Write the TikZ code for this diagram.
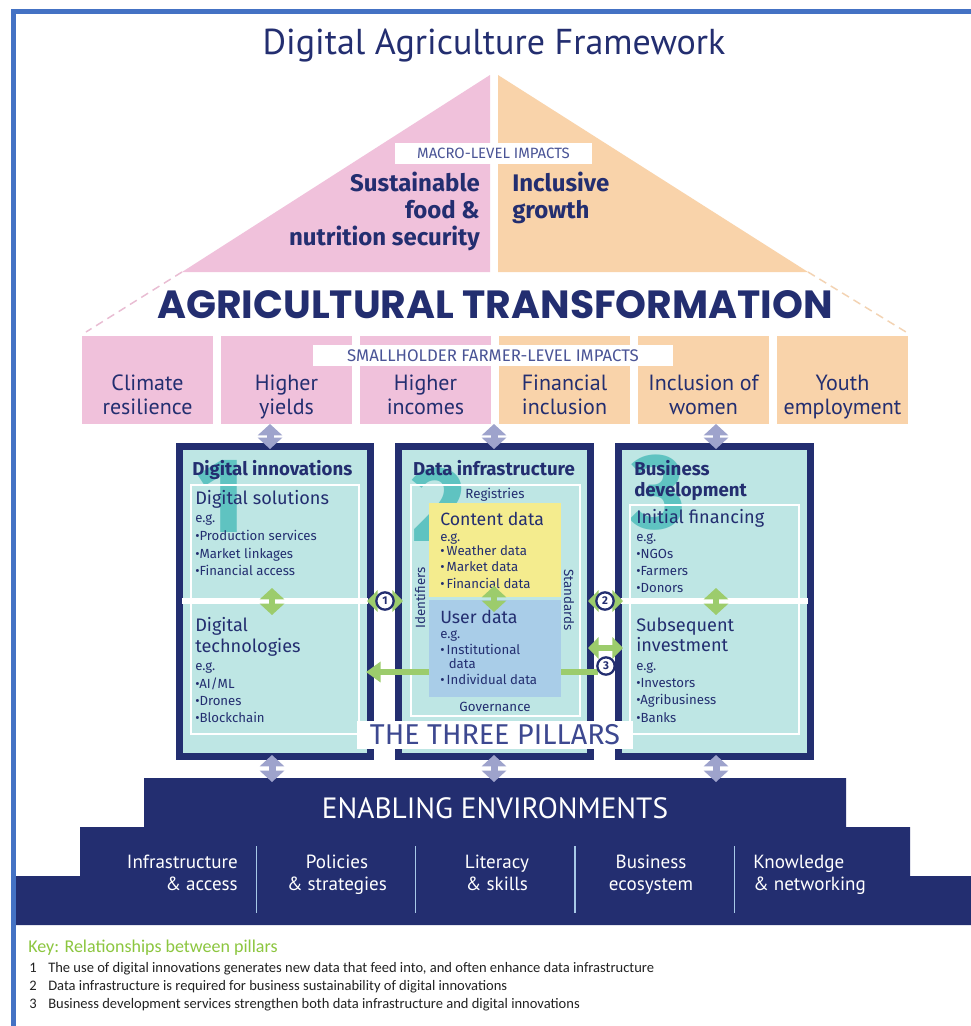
\documentclass[tikz,border=0pt]{standalone}
\usepackage{fontspec}
\setmainfont{Fira Sans}
\newfontfamily\ptsans{PT Sans}
\newfontfamily\carl{Carlito}
\newfontfamily\pop{Poppins}
\usetikzlibrary{arrows.meta}
\definecolor{navy}{HTML}{232E70}
\definecolor{pinkc}{HTML}{F0C1DB}
\definecolor{orangec}{HTML}{F9D3AA}
\definecolor{tealc}{HTML}{BEE6E4}
\definecolor{numc}{HTML}{5FC3C1}
\definecolor{yelc}{HTML}{F4EC8E}
\definecolor{userc}{HTML}{A9CDE8}
\definecolor{greenc}{HTML}{9CCC6C}
\definecolor{lavc}{HTML}{9EA3CC}
\definecolor{frameblue}{HTML}{4472C4}
\definecolor{sepc}{HTML}{A7C9E7}
\definecolor{keygreen}{HTML}{8CC63F}
\definecolor{pillarsc}{HTML}{3D4890}
\definecolor{softnavy}{HTML}{4A5496}
\definecolor{dashpink}{HTML}{E9BDD3}
\definecolor{dashorange}{HTML}{F3D3B3}
\definecolor{keytext}{HTML}{222222}
\newcommand\fsz[2]{\fontsize{#1}{#2}\selectfont}
\tikzset{
  tl/.style={anchor=base west, inner sep=0pt, text=navy},
  tr/.style={anchor=base east, inner sep=0pt, text=navy},
  tc/.style={anchor=base, inner sep=0pt, text=navy},
  impact/.style={rectangle, inner sep=0pt, minimum width=98.25pt, minimum height=66pt},
  pillar/.style={rectangle, fill=tealc, draw=navy, line width=5.25pt, inner sep=0pt, minimum width=143.25pt, minimum height=232.5pt},
  innerbox/.style={rectangle, draw=white, line width=1.1pt, inner sep=0pt},
  lavarr/.style={lavc, line width=5.25pt, {Triangle[width=18pt,length=8.5pt]}-{Triangle[width=18pt,length=8.5pt]}},
  grarr/.style={greenc, line width=5pt, {Triangle[width=18pt,length=8.5pt]}-{Triangle[width=18pt,length=8.5pt]}},
  grhor/.style={greenc, line width=4pt, {Triangle[width=16pt,length=8pt]}-{Triangle[width=16pt,length=8pt]}},
  circnum/.style={circle, draw=navy, line width=1.7pt, fill=white, inner sep=0pt, minimum size=13pt, text=navy, font=\bfseries\fsz{8.5}{9}},
  bignum/.style={anchor=base west, inner sep=0pt, text=numc, font=\bfseries\fsz{80}{82}},
  whitelab/.style={rectangle, fill=white, inner sep=0pt},
  envtxt/.style={inner sep=0pt, text=white, font=\ptsans\fsz{14.3}{16}},
  keyt/.style={anchor=base west, inner sep=0pt, text=keytext, font=\carl\fsz{10.9}{12}},
  hd/.style={font=\bfseries\fsz{14}{16}},
  sub/.style={font=\fsz{13.6}{15}},
  sm/.style={font=\fsz{9.9}{11}},
  lb/.style={font=\fsz{10}{11}}
}
\begin{document}
\begin{tikzpicture}[x=0.75pt,y=-0.75pt]
\useasboundingbox (0,0) rectangle (971,1026);
\fill[white] (0,0) rectangle (971,1026);
% outer frame
\draw[frameblue, line width=3.75pt] (13.5,1030) -- (13.5,11.5) -- (975,11.5);
% title
\node[tc, font=\ptsans\fsz{27}{29}] (title) at (494,54) {Digital Agriculture Framework};
% roof
\fill[pinkc] (182,272) -- (490,75) -- (490,272) -- cycle;
\fill[orangec] (498,75) -- (808,272) -- (498,272) -- cycle;
\draw[dashpink, line width=1.1pt, dash pattern=on 6pt off 4pt] (182,272) -- (86,332);
\draw[dashorange, line width=1.1pt, dash pattern=on 6pt off 4pt] (808,272) -- (906,332);
\node[whitelab, minimum width=147.75pt, minimum height=15.75pt, text=softnavy, font=\fsz{11.2}{12}] (macro) at (493.5,153.5) {MACRO-LEVEL IMPACTS};
\node[tr, font=\bfseries\fsz{18}{19}] (s1) at (480,191) {Sustainable};
\node[tr, font=\bfseries\fsz{18}{19}] (s2) at (480,218) {food \&};
\node[tr, font=\bfseries\fsz{18}{19}] (s3) at (480,245) {nutrition security};
\node[tl, font=\bfseries\fsz{18}{19}] (g1) at (512,191) {Inclusive};
\node[tl, font=\bfseries\fsz{18}{19}] (g2) at (512,218) {growth};
\node[tc, font=\pop\bfseries\fsz{29.5}{31}] (agt) at (495,318) {AGRICULTURAL TRANSFORMATION};
% smallholder impacts
\foreach \cx/\col/\la/\lb [count=\i] in {147.5/pinkc/Climate/resilience, 286.5/pinkc/Higher/yields, 425.5/pinkc/Higher/incomes, 564.5/orangec/Financial/inclusion, 703.5/orangec/Inclusion of/women, 842.5/orangec/Youth/employment}{
  \node[impact, fill=\col] (imp\i) at (\cx,380) {};
  \node[tc, font=\ptsans\fsz{16.5}{18}] (impa\i) at (\cx,390) {\la};
  \node[tc, font=\ptsans\fsz{16.5}{18}] (impb\i) at (\cx,414) {\lb};
}
\node[whitelab, minimum width=270pt, minimum height=15.75pt, text=softnavy, font=\fsz{12.6}{13}] (shlab) at (493,355.5) {SMALLHOLDER FARMER-LEVEL IMPACTS};
% pillars
\node[pillar] (p1) at (275,601.5) {};
\node[pillar, minimum width=144pt] (p2) at (494.5,601.5) {};
\node[pillar, minimum width=144pt] (p3) at (714.5,601.5) {};
% big numerals
\node[bignum] (n1) at (196,532) {1};
\node[bignum] (n2) at (411,541) {2};
\node[bignum] (n3) at (630,528) {3};
% pillar 1 inner
\fill[white] (182,598) rectangle (368,604);
\node[innerbox, minimum width=126pt, minimum height=186.75pt] (p1in) at (275,609.5) {};
\node[tl, hd] (p1t) at (192,475) {Digital innovations};
\node[tl, sub] (p1a) at (195,504) {Digital solutions};
\node[tl, sm] (p1e) at (195,522) {e.g.};
\foreach \t/\y [count=\i] in {Production services/540, Market linkages/558, Financial access/575}
  \node[tl, sm] (p1b\i) at (195,\y) {•\t};
\node[tl, sub] (p1c) at (195,631) {Digital};
\node[tl, sub] (p1d) at (195,652) {technologies};
\node[tl, sm] (p1f) at (195,670) {e.g.};
\node[tl, sm] (p1g1) at (195,688) {•AI/ML};
\node[tl, sm] (p1g2) at (195,705) {•Drones};
\node[tl, sm] (p1g3) at (195,722) {•Blockchain};
% pillar 2 inner
\node[innerbox, minimum width=126.75pt, minimum height=173.25pt] (p2in) at (495.5,600.5) {};
\node[tc, hd] (p2t) at (494,475) {Data infrastructure};
\node[tc, lb] (reg) at (495,498) {Registries};
\node[rectangle, fill=yelc, inner sep=0pt, minimum width=99pt, minimum height=70.5pt] (content) at (495,550) {};
\node[rectangle, fill=userc, inner sep=0pt, minimum width=99pt, minimum height=72.75pt] (user) at (495,648.5) {};
\node[tl, font=\fsz{13.3}{14}] (cd) at (440,525) {Content data};
\node[tl, sm] (cde) at (440,541) {e.g.};
\foreach \t/\y [count=\i] in {Weather data/555, Market data/571, Financial data/588}
  \node[tl, sm] (cdb\i) at (440,\y) {•\,\t};
\node[tl, font=\fsz{13.3}{14}] (ud) at (440,623) {User data};
\node[tl, sm] (ude) at (440,638) {e.g.};
\node[tl, sm] (udb1) at (440,654) {•\,Institutional};
\node[tl, sm] (udb2) at (448.5,668) {data};
\node[tl, sm] (udb3) at (440,684) {•\,Individual data};
\node[inner sep=0pt, text=navy, lb, rotate=90] (ident) at (420,598) {Identifiers};
\node[inner sep=0pt, text=navy, lb, rotate=-90] (stand) at (569,600) {Standards};
\node[tc, lb] (gov) at (495,711) {Governance};
% pillar 3 inner
\fill[white] (621,598) rectangle (808,604);
\node[innerbox, minimum width=126.75pt, minimum height=171.75pt] (p3in) at (714.5,619.5) {};
\node[tl, hd] (p3t) at (634,475) {Business};
\node[tl, hd] (p3t2) at (634,496) {development};
\node[tl, sub] (p3a) at (636,523) {Initial financing};
\node[tl, sm] (p3e) at (636,541) {e.g.};
\foreach \t/\y [count=\i] in {NGOs/558, Farmers/575, Donors/592}
  \node[tl, sm] (p3b\i) at (636,\y) {•\t};
\node[tl, sub] (p3c) at (636,631) {Subsequent};
\node[tl, sub] (p3d) at (636,651) {investment};
\node[tl, sm] (p3f) at (636,670) {e.g.};
\foreach \t/\y [count=\i] in {Investors/687, Agribusiness/704, Banks/722}
  \node[tl, sm] (p3g\i) at (636,\y) {•\t};
% internal green arrows
\coordinate (ga1) at (272,588); \coordinate (gb1) at (272,615);
\coordinate (ga2) at (494,586); \coordinate (gb2) at (494,612);
\coordinate (ga3) at (716,588); \coordinate (gb3) at (716,615);
\draw[grarr] (ga1) -- (gb1);
\draw[grarr] (ga2) -- (gb2);
\draw[grarr] (ga3) -- (gb3);
% relations between pillars
\coordinate (r1a) at (367,601); \coordinate (r1b) at (403,601);
\draw[grhor] (r1a) -- (r1b);
\node[circnum] (c1) at (385,601) {1};
\coordinate (r2a) at (588,601); \coordinate (r2b) at (623,601);
\draw[grhor] (r2a) -- (r2b);
\node[circnum] (c2) at (605,601) {2};
\coordinate (r3a) at (588,648); \coordinate (r3b) at (623,648);
\draw[grhor] (r3a) -- (r3b);
\coordinate (uL) at (429,672); \coordinate (uR) at (561,672);
\coordinate (p1R) at (366,672);
\coordinate (c3in) at (598,672);
\draw[greenc, line width=4.5pt, -{Triangle[width=15pt,length=11pt]}] (uL) -- (p1R);
\draw[greenc, line width=4.5pt] (uR) -- (c3in);
\node[circnum] (c3) at (606,666) {3};
% three pillars label
\node[whitelab, minimum width=207pt, minimum height=21pt, text=pillarsc, font=\fsz{21.5}{23}] (tpl) at (495,734.5) {THE THREE PILLARS};
% enabling environments
\fill[navy] (16,925) -- (16,876) -- (80,876) -- (80,827) -- (144,827) -- (144,778) -- (846,778) -- (846,827) -- (910,827) -- (910,876) -- (971,876) -- (971,925) -- cycle;
\node[anchor=base, inner sep=0pt, text=white, font=\ptsans\fsz{22}{24}] (env) at (495,818) {ENABLING ENVIRONMENTS};
\foreach \x [count=\i] in {256.5,415.5,575,734.5}
  \draw[sepc, line width=1.3pt] (\x,846) -- (\x,913);
\node[envtxt, anchor=base east] (e1a) at (238,868) {Infrastructure};
\node[envtxt, anchor=base east] (e1b) at (238,890) {\& access};
\node[envtxt, anchor=base] (e2a) at (337,868) {Policies};
\node[envtxt, anchor=base] (e2b) at (337,890) {\& strategies};
\node[envtxt, anchor=base] (e3a) at (497,868) {Literacy};
\node[envtxt, anchor=base] (e3b) at (497,890) {\& skills};
\node[envtxt, anchor=base] (e4a) at (651,868) {Business};
\node[envtxt, anchor=base] (e4b) at (651,890) {ecosystem};
\node[envtxt, anchor=base west] (e5a) at (753,868) {Knowledge};
\node[envtxt, anchor=base west] (e5b) at (753,890) {\& networking};
% lavender arrows
\coordinate (la1) at (270,424); \coordinate (lb1) at (270,449);
\coordinate (la2) at (494,424); \coordinate (lb2) at (494,449);
\coordinate (la3) at (716,424); \coordinate (lb3) at (716,449);
\draw[lavarr] (la1) -- (lb1);
\draw[lavarr] (la2) -- (lb2);
\draw[lavarr] (la3) -- (lb3);
\coordinate (ld1) at (272,755); \coordinate (le1) at (272,782);
\coordinate (ld2) at (494,755); \coordinate (le2) at (494,782);
\coordinate (ld3) at (716,755); \coordinate (le3) at (716,782);
\draw[lavarr] (ld1) -- (le1);
\draw[lavarr] (ld2) -- (le2);
\draw[lavarr] (ld3) -- (le3);
% key
\node[anchor=base west, inner sep=0pt, text=keygreen, font=\carl\fsz{13.5}{15}] (key) at (28,952) {Key: Relationships between pillars};
\node[keyt] (k1n) at (29,972) {1};
\node[keyt] (k1) at (48,972) {The use of digital innovations generates new data that feed into, and often enhance data infrastructure};
\node[keyt] (k2n) at (29,990) {2};
\node[keyt] (k2) at (48,990) {Data infrastructure is required for business sustainability of digital innovations};
\node[keyt] (k3n) at (29,1008) {3};
\node[keyt] (k3) at (48,1008) {Business development services strengthen both data infrastructure and digital innovations};
\end{tikzpicture}
\end{document}
